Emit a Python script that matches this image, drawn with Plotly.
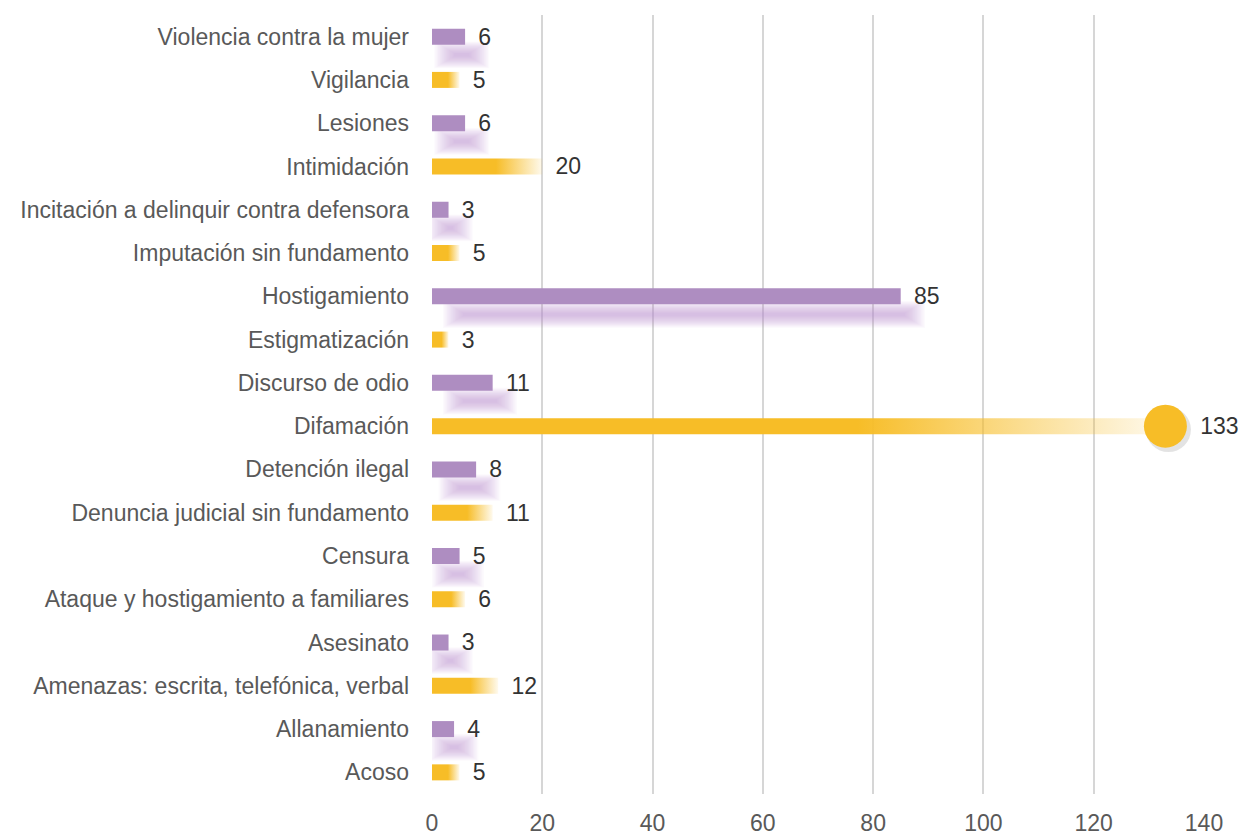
import plotly.graph_objects as go

# Data (bottom to top)
categories = [
    "Acoso", "Allanamiento", "Amenazas: escrita, telefónica, verbal", "Asesinato",
    "Ataque y hostigamiento a familiares", "Censura", "Denuncia judicial sin fundamento",
    "Detención ilegal", "Difamación", "Discurso de odio", "Estigmatización",
    "Hostigamiento", "Imputación sin fundamento", "Incitación a delinquir contra defensora",
    "Intimidación", "Lesiones", "Vigilancia", "Violencia contra la mujer",
]
values = [5, 4, 12, 3, 6, 5, 11, 8, 133, 11, 3, 85, 5, 3, 20, 6, 5, 6]
highlight = "Difamación"
x_ticks = [0, 20, 40, 60, 80, 100, 120, 140]

YELLOW = "#f7bd27"
PURPLE = "#ae8dc1"
BAR_H = 0.37

idx = list(range(len(categories)))
yel = [i for i in idx if i % 2 == 0]
pur = [i for i in idx if i % 2 == 1]

fig = go.Figure()

# purple soft shadows (layered translucent bars to emulate a blur)
n_layers = 16
sh_dy = -0.42
sh_h = 0.08
for k in range(n_layers):
    padx = 0.24 * k
    pady = 0.018 * k
    w = sh_h + 2 * pady
    starts = [min(0.4 * values[i], 4.0) + 1.6 for i in pur]
    ends = [values[i] + 0.8 for i in pur]
    fig.add_trace(go.Bar(
        y=pur,
        x=[max(e - s, 0.6) + 2 * padx for s, e in zip(starts, ends)],
        base=[s - padx for s in starts],
        orientation="h",
        width=w,
        offset=sh_dy - w / 2,
        marker=dict(color="rgba(178,136,200,0.042)", line=dict(width=0)),
        hoverinfo="skip",
        showlegend=False,
    ))

# purple bars
fig.add_trace(go.Bar(
    y=pur, x=[values[i] for i in pur], orientation="h", width=BAR_H,
    marker=dict(color=PURPLE, line=dict(width=0)), showlegend=False,
))

# yellow gradient bars
for i in yel:
    v = values[i]
    fig.add_trace(go.Scatter(
        x=[0, v, v, 0, 0],
        y=[i - BAR_H / 2, i - BAR_H / 2, i + BAR_H / 2, i + BAR_H / 2, i - BAR_H / 2],
        mode="lines", line=dict(width=0), fill="toself",
        fillgradient=dict(
            type="horizontal",
            colorscale=[[0, YELLOW], [0.58, YELLOW], [1, "rgba(247,189,39,0.08)"]],
        ),
        hoverinfo="skip", showlegend=False,
    ))

# highlight circle
hi = categories.index(highlight)
fig.add_trace(go.Scatter(
    x=[values[hi] + 0.55], y=[hi - 0.08], mode="markers",
    marker=dict(size=45, color="rgba(80,80,80,0.16)", line=dict(width=0)),
    hoverinfo="skip", showlegend=False, cliponaxis=False,
))
fig.add_trace(go.Scatter(
    x=[values[hi]], y=[hi], mode="markers",
    marker=dict(size=43, color=YELLOW, line=dict(width=0)),
    hoverinfo="skip", showlegend=False, cliponaxis=False,
))

# value labels
lab_x = [values[i] + (6.3 if i == hi else 2.4) for i in idx]
fig.add_trace(go.Scatter(
    x=lab_x, y=[i - 0.05 for i in idx], mode="text",
    text=[str(values[i]) for i in idx], textposition="middle right",
    textfont=dict(family="Liberation Sans", size=23, color="#333333"),
    hoverinfo="skip", showlegend=False, cliponaxis=False,
))

fig.update_layout(
    width=1243, height=838,
    margin=dict(l=432, r=39, t=15, b=44, autoexpand=False),
    paper_bgcolor="white", plot_bgcolor="white",
    barmode="overlay",
    hovermode=False,
    font=dict(family="Liberation Sans", size=23, color="#595959"),
    xaxis=dict(
        range=[0, 140], tickvals=x_ticks, showgrid=True, gridcolor="#d6d6d6",
        gridwidth=1.5, zeroline=False, showline=False, ticks="", automargin=False,
        ticklabelstandoff=13, tickfont=dict(size=23, color="#595959"),
    ),
    yaxis=dict(
        range=[-0.5, 17.5], tickvals=idx, ticktext=categories, showgrid=False,
        zeroline=False, showline=False, ticks="", ticklabelstandoff=22, automargin=False,
        tickfont=dict(size=23, color="#595959"),
    ),
)

# remove the browser's default 8px body margin so the figure fills the window exactly
fig.write_html(
    "out.html",
    config={"displayModeBar": False},
    post_script="document.body.style.margin='0';document.body.style.overflow='hidden';",
)
